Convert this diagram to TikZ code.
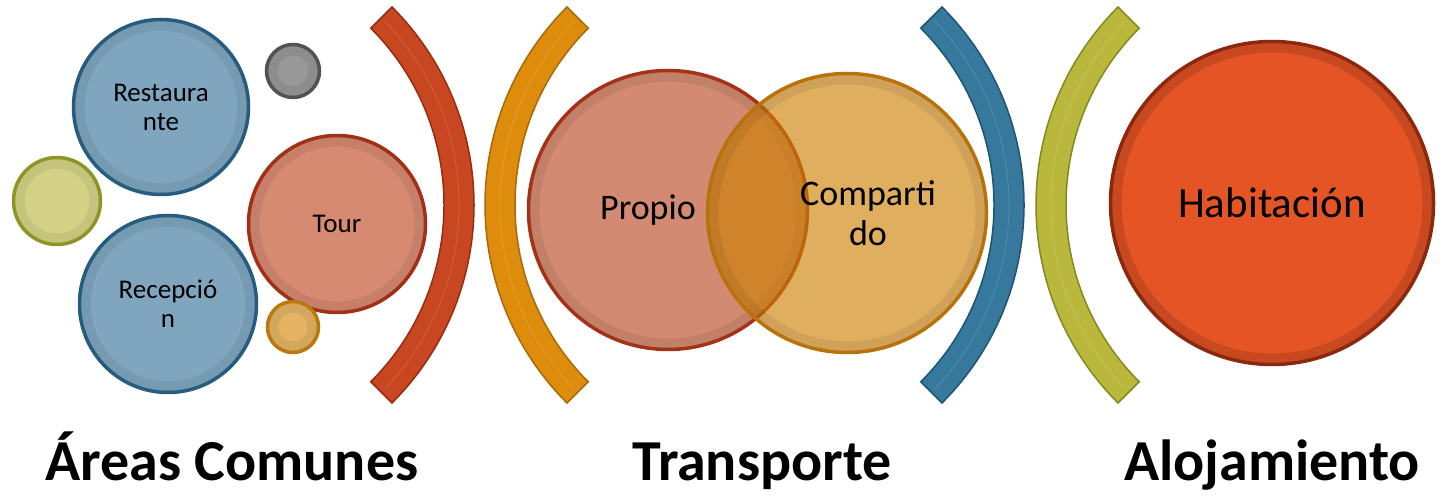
\documentclass[tikz,border=0pt]{standalone}
\usepackage{fontspec}
\setmainfont{Carlito}
\usetikzlibrary{calc}
\definecolor{bluefill}{RGB}{128,166,191}
\definecolor{blueline}{RGB}{38,92,126}
\definecolor{greyfill}{RGB}{152,152,152}
\definecolor{greyline}{RGB}{82,82,82}
\definecolor{limefill}{RGB}{212,210,134}
\definecolor{limeline}{RGB}{140,150,40}
\definecolor{tourfill}{RGB}{214,138,114}
\definecolor{tourline}{RGB}{160,48,22}
\definecolor{amberfill}{RGB}{228,180,100}
\definecolor{amberline}{RGB}{186,120,16}
\definecolor{propfill}{RGB}{210,138,114}
\definecolor{propline}{RGB}{163,50,24}
\definecolor{compfill}{RGB}{206,129,5}
\definecolor{compline}{RGB}{183,115,10}
\definecolor{habfill}{RGB}{228,84,36}
\definecolor{habline}{RGB}{140,40,14}
\definecolor{redarc}{RGB}{200,70,32}
\definecolor{redarcline}{RGB}{150,45,18}
\definecolor{orangearc}{RGB}{222,140,12}
\definecolor{orangearcline}{RGB}{168,105,10}
\definecolor{bluearc}{RGB}{54,121,156}
\definecolor{bluearcline}{RGB}{30,85,115}
\definecolor{limearc}{RGB}{186,184,60}
\definecolor{limearcline}{RGB}{130,138,30}
\tikzset{
    bubble/.style = {circle,
                    draw=#1,
                    line width=3.5pt,
                    text=black,
                    align=center,
                    inner sep=0pt,
                    font=\fontsize{27}{29}\selectfont},
    ring/.style =   {path picture={
                    \draw[line width=22pt,black,opacity=#1]
                    let \p1=($(path picture bounding box.north)-(path picture bounding box.center)$)
                    in (path picture bounding box.center) circle ({\y1});}},
    ring/.default = 0.07,
    band/.style =   {draw=#1,
                    line width=1.5pt,
                    line join=miter},
    shine/.style =  {white,
                    opacity=0.15,
                    line width=0.8pt},
    title/.style =  {anchor=base,
                    text=black,
                    font=\fontsize{58}{60}\selectfont\bfseries},
    -,
    x=1pt,
    y=1pt}
\begin{document}
\begin{tikzpicture}
    \useasboundingbox (0,0) rectangle (1450,495);
    % areas comunes
    \node[bubble=blueline, fill=bluefill, ring, minimum size=175pt]    (rest)  at (161,388) {Restaura\\nte};
    \node[bubble=greyline, fill=greyfill, ring, minimum size=53pt]     (grey)  at (293,424) {};
    \node[bubble=limeline, fill=limefill, ring, minimum size=87pt]     (lime)  at (57,294)  {};
    \node[bubble=blueline, fill=bluefill, ring, minimum size=177pt]    (recep) at (168,191) {Recepció\\n};
    \node[bubble=tourline, fill=tourfill, ring, minimum size=177pt]    (tour)  at (337,271) {Tour};
    \node[bubble=amberline, fill=amberfill, ring, minimum size=51pt]   (amber) at (293,168) {};
    \draw[band=redarcline, fill=redarc] (194,290) ++(-45:250) arc[start angle=-45, end angle=45, radius=250pt]
        -- ++(45:30) arc[start angle=45, end angle=-45, radius=280pt] -- cycle;
    \draw[shine] (194,290) ++(-44:265) arc[start angle=-44, end angle=44, radius=265pt];
    % transporte
    \draw[band=orangearcline, fill=orangearc] (765,290) ++(135:250) arc[start angle=135, end angle=225, radius=250pt]
        -- ++(225:30) arc[start angle=225, end angle=135, radius=280pt] -- cycle;
    \draw[shine] (765,290) ++(136:265) arc[start angle=136, end angle=224, radius=265pt];
    \node[bubble=propline, fill=propfill, ring, minimum size=279pt,
          label={[font=\fontsize{36}{40}\selectfont, xshift=-20pt]center:Propio}]    (propio)  at (668,285) {};
    \node[bubble=compline, fill=compfill, fill opacity=0.64, ring, minimum size=279pt,
          label={[font=\fontsize{36}{40}\selectfont, align=center, text opacity=1, xshift=21pt]center:Comparti\\do}] (compart) at (847,282) {};
    \draw[band=bluearcline, fill=bluearc] (744,290) ++(-45:250) arc[start angle=-45, end angle=45, radius=250pt]
        -- ++(45:30) arc[start angle=45, end angle=-45, radius=280pt] -- cycle;
    \draw[shine] (744,290) ++(-44:265) arc[start angle=-44, end angle=44, radius=265pt];
    % alojamiento
    \draw[band=limearcline, fill=limearc] (1316,290) ++(135:250) arc[start angle=135, end angle=225, radius=250pt]
        -- ++(225:30) arc[start angle=225, end angle=135, radius=280pt] -- cycle;
    \draw[shine] (1316,290) ++(136:265) arc[start angle=136, end angle=224, radius=265pt];
    \node[bubble=habline, fill=habfill, ring=0.12, minimum size=323pt,
          font=\fontsize{43}{46}\selectfont]                               (habit) at (1272,292) {Habitación};
    % titulos
    \node[title] (areas)  at (232,14)  {Áreas Comunes};
    \node[title] (transp) at (762,14)  {Transporte};
    \node[title] (aloj)   at (1272,14) {Alojamiento};
\end{tikzpicture}
\end{document}
